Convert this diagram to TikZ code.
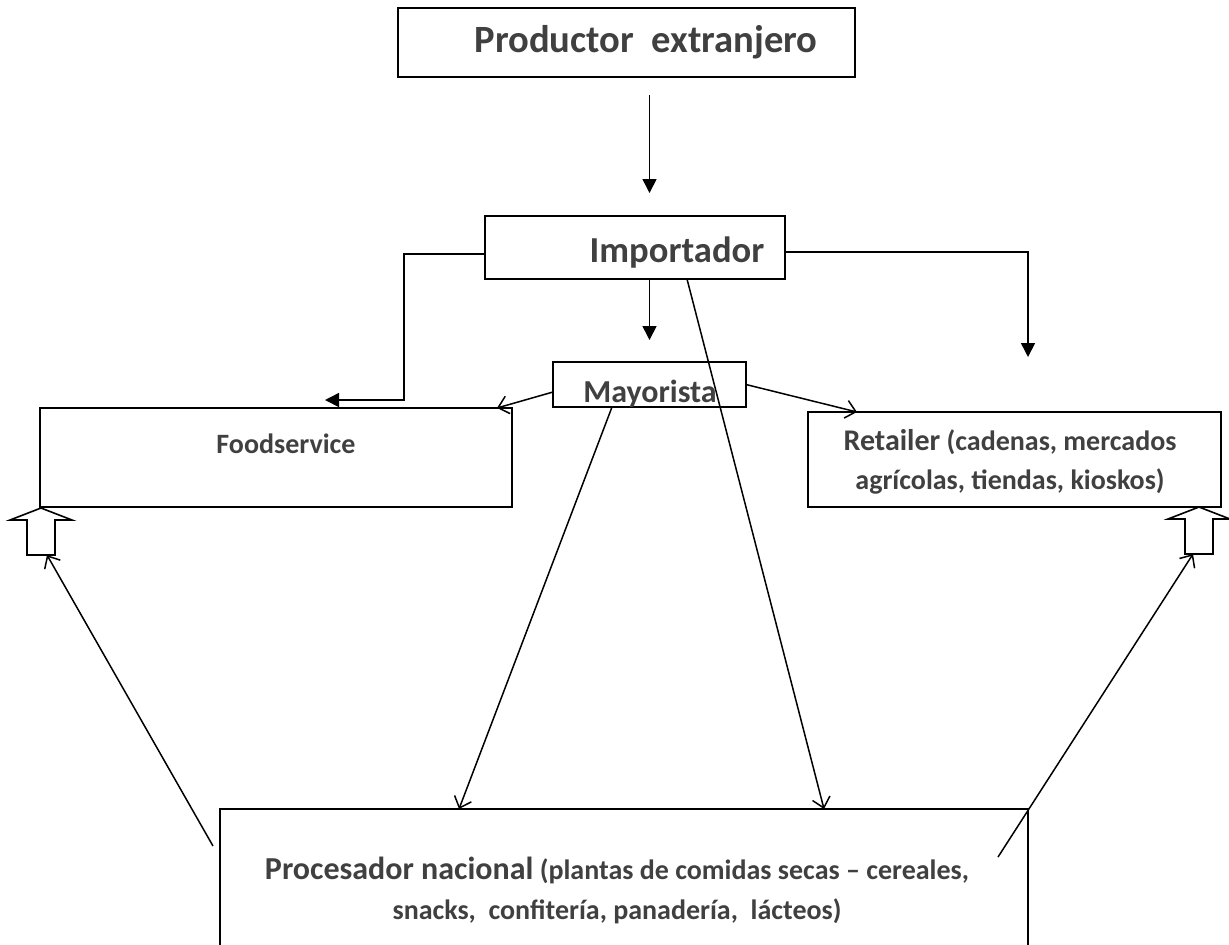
\documentclass[tikz,border=0pt]{standalone}
\usepackage{fontspec}
\setmainfont{Carlito}
\usepackage{tikz}
\usetikzlibrary{arrows.meta}
\usetikzlibrary{fit}
\definecolor{txtgray}{RGB}{64,64,64}
\tikzset{
box/.style={
  draw,
  line width=0.9pt,
  inner sep=0pt,
  outer sep=0pt
},
lbl/.style={text=txtgray, inner sep=0pt, align=center},
arr/.style={line width=0.8pt, -{Triangle[length=7pt,width=7pt]}},
thinarr/.style={line width=0.75pt, -{Straight Barb[length=5pt,width=9pt]}},
uparr/.pic={
  \draw[line width=0.8pt, line join=miter]
    (0,0) -- (31,12) -- (14,12) -- (14,47) -- (-14,47) -- (-14,12) -- (-31,12) -- cycle;
  \coordinate (-base) at (0,47);
},
}

\begin{document}
\begin{tikzpicture}[x=0.5pt,y=-0.5pt]
\useasboundingbox (0,0) rectangle (1229,944);
% the boxes
\node[box, fit={(398,8) (855,77)}] (prod) {};
\node[box, fit={(485,216) (785,279)}] (imp) {};
\node[box, fit={(553,362) (746,407)}] (may) {};
\node[box, fit={(40,408) (512,507)}] (food) {};
\node[box, fit={(808,412) (1221,507)}] (ret) {};
\node[box, fit={(220,809) (1028,990)}] (proc) {};
% the texts
\node[lbl, font=\bfseries\fontsize{19.3}{22}\selectfont] (prodtxt) at (646,42) {Productor\ \ extranjero};
\node[lbl, font=\bfseries\fontsize{18.3}{22}\selectfont] (imptxt) at (677,253) {Importador};
\node[lbl, font=\bfseries\fontsize{16}{18}\selectfont] (maytxt) at (650,394) {Mayorista};
\node[lbl, font=\bfseries\fontsize{14}{18}\selectfont] (foodtxt) at (286,444) {Foodservice};
\node[lbl, font=\bfseries\fontsize{14}{19.5}\selectfont] (rettxt) at (1010,462)
  {{\fontsize{15}{19.5}\selectfont Retailer} (cadenas, mercados\\agrícolas, tiendas, kioskos)};
\node[lbl, font=\bfseries\fontsize{14}{20}\selectfont] (proctxt) at (617,890)
  {{\fontsize{16}{20}\selectfont Procesador nacional} (plantas de comidas secas -- cereales,\\snacks,\ \ confitería, panadería,\ \ lácteos)};
% the block arrows
\pic (fup) at (41,508) {uparr};
\pic (rup) at (1199,507) {uparr};
% the corner points
\coordinate (fbend) at (404,400);
\coordinate (fend) at (325,400);
\coordinate (rtip) at (1028,357);
% the arrows
\draw[arr, shorten <=9pt, shorten >=11.5pt] (prod.south -| may.north) -- (imp.north -| may.north);
\draw[arr, shorten >=11pt] (imp.south -| may.north) -- (may.north);
\draw[arr] ([yshift=-3.25pt]imp.west) -| (fbend) -- (fend);
\draw[arr] ([yshift=-2.25pt]imp.east) -| (rtip);
\draw[thinarr] ([xshift=26pt]imp.south) -- ([xshift=100pt]proc.north);
\draw[thinarr] ([xshift=-18.75pt]may.south) -- ([xshift=-82.5pt]proc.north);
\draw[thinarr] ([yshift=-3.75pt]may.west) -- ([xshift=-7.5pt]food.north east);
\draw[thinarr] (may.east) -- ([xshift=24.5pt]ret.north west);
\draw[thinarr] ([xshift=-3.5pt,yshift=-18.5pt]proc.north west) -- ([xshift=3pt]fup-base);
\draw[thinarr] ([xshift=-15pt,yshift=-24pt]proc.north east) -- ([xshift=-3pt]rup-base);
\end{tikzpicture}
\end{document}
